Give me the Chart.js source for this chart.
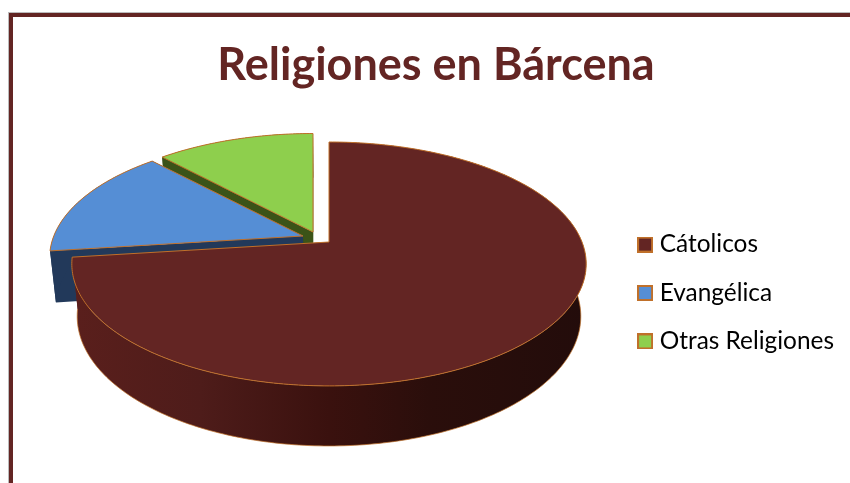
<!DOCTYPE html>
<html>
<head>
<meta charset="utf-8">
<title>Religiones en Bárcena</title>
<script src="https://cdn.jsdelivr.net/npm/chart.js@4"></script>
<style>
  html, body { margin: 0; padding: 0; background: #fff; overflow: hidden; }
  #wrap { position: relative; width: 850px; height: 483px; overflow: hidden; }
  #frame { position: absolute; left: 9px; top: 13px; width: 900px; height: 600px; border: 4px solid #632523; box-shadow: -1px -1px 0 #bbb; }
  canvas { position: absolute; left: 0; top: 0; }
</style>
</head>
<body>
<div id="wrap">
  <div id="frame"></div>
  <canvas id="myChart" width="850" height="483"></canvas>
</div>
<script>
const categories = ['Cátolicos', 'Evangélica', 'Otras Religiones'];
const seriesValues = [73, 15, 12];

const topColors = ['#632523', '#558ed5', '#8ecf4d'];
const wallColors = ['#4a1a18', '#22395a', '#3b5318'];
const edgeColor = '#c0702a';

// where each exploded slice has its tip, drawn back to front
const sliceTips = [[329, 242], [303, 236], [313, 232]];
const sliceScale = [1, 0.985, 0.985];
const drawOrder = [2, 1, 0];

// the pie lies on a tilted plane, so the circle goes through a perspective
const planeA = 253;
const planeB = 118;
const planeP = 0.18;

function project(tip, angle, scale) {
  const u = Math.cos(angle);
  const v = Math.sin(angle);
  const w = 1 - planeP * v;
  return [tip[0] + scale * planeA * u / w, tip[1] + scale * planeB * v / w];
}

// same point on the underside of the pie
function lower(pt) {
  const y = pt[1] - 242;
  return [329 + (pt[0] - 329) * 0.979, pt[1] + 51 + y * 0.063];
}

function rimPoints(tip, start, end, scale) {
  const pts = [];
  const steps = Math.max(8, Math.ceil((end - start) * 60));
  for (let i = 0; i <= steps; i += 1) {
    pts.push(project(tip, start + (end - start) * i / steps, scale));
  }
  return pts;
}

function tracePath(ctx, pts, close) {
  ctx.beginPath();
  pts.forEach((p, i) => (i ? ctx.lineTo(p[0], p[1]) : ctx.moveTo(p[0], p[1])));
  if (close) ctx.closePath();
}

function drawSlice(ctx, arc, index) {
  const tip = sliceTips[index];
  const rim = rimPoints(tip, arc.startAngle, arc.endAngle, sliceScale[index]);
  const rimLow = rim.map(lower);

  let wallFill = wallColors[index];
  if (index === 0) {
    wallFill = ctx.createLinearGradient(72, 0, 586, 0);
    wallFill.addColorStop(0, '#5a1f1c');
    wallFill.addColorStop(0.25, '#4e1c1a');
    wallFill.addColorStop(0.5, '#3a110e');
    wallFill.addColorStop(0.7, '#2a0e0b');
    wallFill.addColorStop(1, '#230c0b');
  }
  ctx.fillStyle = wallFill;

  // cut faces
  [rim[0], rim[rim.length - 1]].forEach((p) => {
    tracePath(ctx, [tip, p, lower(p), lower(tip)], true);
    ctx.fill();
  });
  // outer wall
  tracePath(ctx, rim.concat(rimLow.slice().reverse()), true);
  ctx.fill();

  ctx.strokeStyle = edgeColor;
  ctx.lineWidth = 1;
  if (index === 0) {
    ctx.globalAlpha = 0.7;
    tracePath(ctx, rimLow, false);
    ctx.stroke();
    ctx.globalAlpha = 1;
  }

  // top face
  tracePath(ctx, [tip].concat(rim), true);
  ctx.fillStyle = topColors[index];
  ctx.fill();
  ctx.stroke();
}

const pie3d = {
  id: 'pie3d',
  beforeDatasetDraw(chart, args) {
    const { ctx } = chart;
    ctx.save();
    drawOrder.forEach((i) => drawSlice(ctx, args.meta.data[i], i));
    ctx.restore();
    return false;
  },
};

function makeSwatch(fill) {
  const c = document.createElement('canvas');
  c.width = 16;
  c.height = 16;
  const g = c.getContext('2d');
  g.fillStyle = edgeColor;
  g.fillRect(0, 0, 16, 16);
  g.fillStyle = fill;
  g.fillRect(2, 2, 12, 12);
  return c;
}

const myChartRef = document.getElementById('myChart').getContext('2d');
const piechart = new Chart(myChartRef, {
  type: 'pie',
  plugins: [pie3d],
  data: {
    labels: categories,
    datasets: [{
      label: 'Religiones',
      data: seriesValues,
      backgroundColor: topColors,
      borderColor: edgeColor,
      borderWidth: 1,
    }],
  },
  options: {
    animation: false,
    responsive: false,
    layout: { padding: { left: 28, right: 6, top: 0, bottom: 0 } },
    plugins: {
      tooltip: { enabled: false },
      title: {
        display: true,
        text: 'Religiones en Bárcena',
        color: '#632523',
        font: { family: 'Lato', size: 45, weight: 'bold' },
        padding: { top: 38, bottom: 11 },
      },
      legend: {
        position: 'right',
        fullSize: false,
        labels: {
          color: '#000',
          font: { family: 'Lato', size: 24.4 },
          padding: 24,
          boxWidth: 5,
          usePointStyle: true,
          generateLabels: () => categories.map((text, i) => ({
            text,
            index: i,
            pointStyle: makeSwatch(topColors[i]),
            fontColor: '#000',
          })),
        },
      },
    },
  },
});
</script>
</body>
</html>
